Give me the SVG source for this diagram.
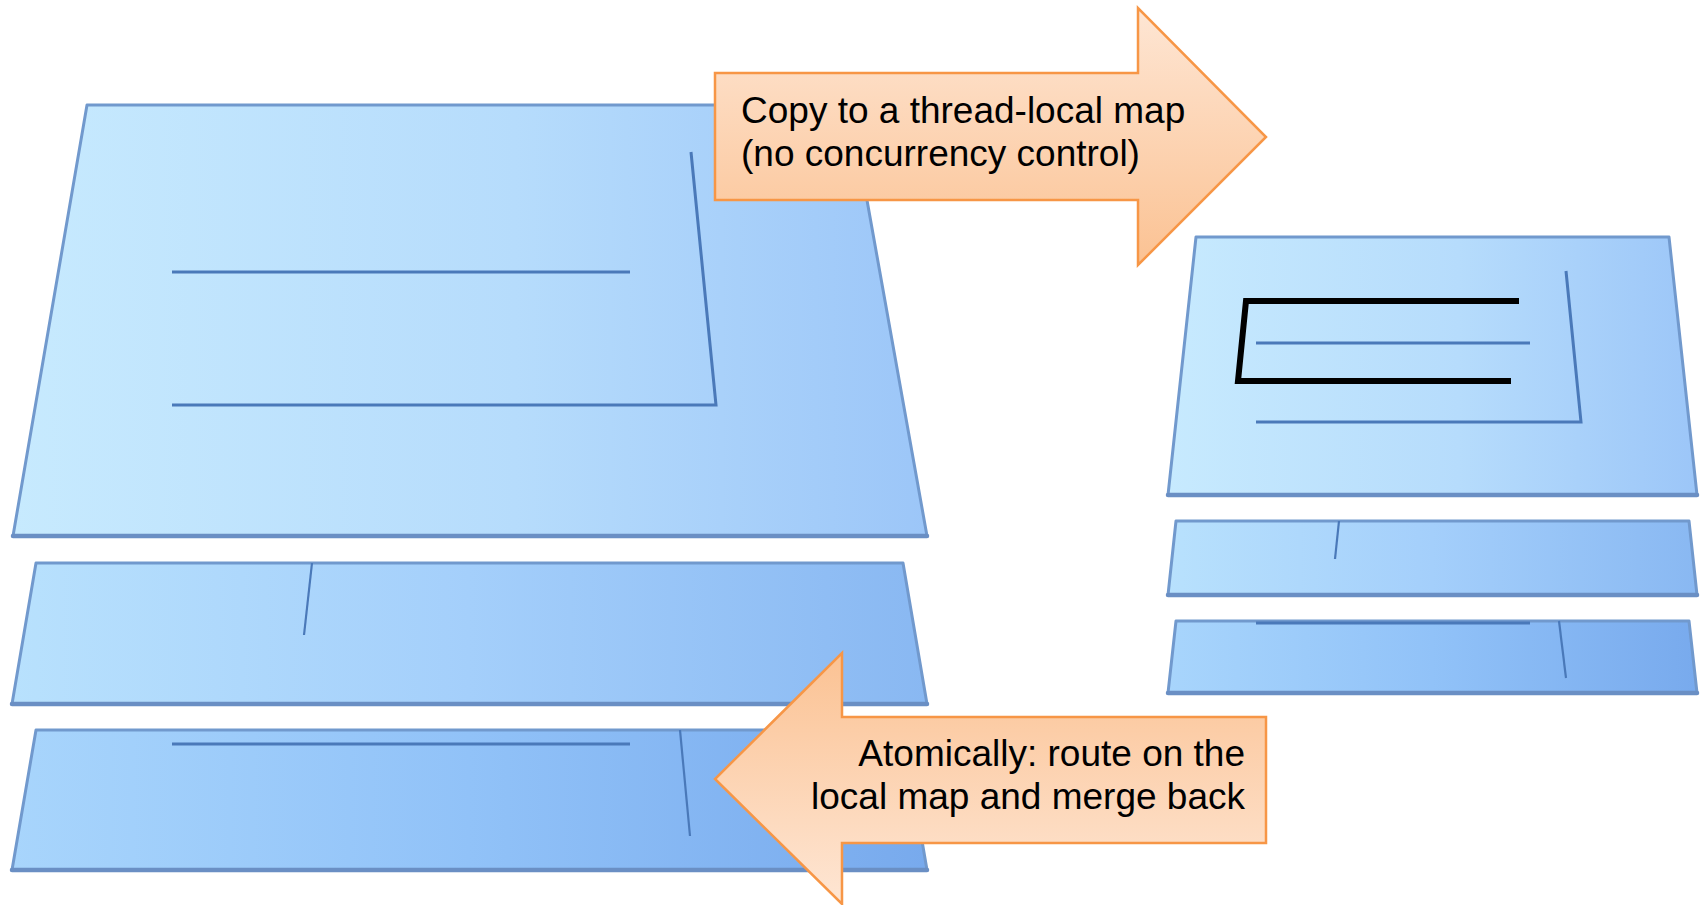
<svg xmlns="http://www.w3.org/2000/svg" width="1700" height="905" viewBox="0 0 1700 905">
  <defs>
    <!-- plane fills: lighter on top layer, darker toward the bottom layers -->
    <linearGradient id="gTop" x1="0" y1="0" x2="1" y2="0">
      <stop offset="0" stop-color="#c7eafe"/>
      <stop offset="0.55" stop-color="#b6dcfc"/>
      <stop offset="1" stop-color="#9cc6f8"/>
    </linearGradient>
    <linearGradient id="gMid" x1="0" y1="0" x2="1" y2="0">
      <stop offset="0" stop-color="#b8e1fd"/>
      <stop offset="0.5" stop-color="#a4cffb"/>
      <stop offset="1" stop-color="#89b8f2"/>
    </linearGradient>
    <linearGradient id="gLow" x1="0" y1="0" x2="1" y2="0">
      <stop offset="0" stop-color="#a8d5fc"/>
      <stop offset="0.5" stop-color="#91c2f8"/>
      <stop offset="1" stop-color="#78aaed"/>
    </linearGradient>
    <linearGradient id="gArrowDown" x1="0" y1="0" x2="0" y2="1">
      <stop offset="0" stop-color="#fee6d4"/>
      <stop offset="1" stop-color="#fbc293"/>
    </linearGradient>
    <linearGradient id="gArrowUp" x1="0" y1="0" x2="0" y2="1">
      <stop offset="0" stop-color="#fbc293"/>
      <stop offset="1" stop-color="#fee6d4"/>
    </linearGradient>
  </defs>
  <style>
    .plane { stroke: #7199cd; stroke-width: 3; stroke-linejoin: round; }
    .edge { stroke: #6a8fc4; stroke-width: 4.5; stroke-linecap: round; fill: none; }
    .route { stroke: #4a79b9; stroke-width: 3; fill: none; }
    .routeThin { stroke: #4a79b9; stroke-width: 2.2; fill: none; }
    .path { stroke: #000; stroke-width: 6; fill: none; stroke-linejoin: miter; }
    .arrow { stroke: #f79646; stroke-width: 2.5; stroke-linejoin: miter; }
    .label { font-family: "Liberation Sans", Arial, sans-serif; font-size: 37px; fill: #000; }
  </style>

  <rect width="1700" height="905" fill="#ffffff"/>

  <!-- shared map: three stacked layers -->
  <g id="shared-top">
    <polygon class="plane" fill="url(#gTop)" points="87,105 850,105 927,536 13,536"/>
    <line class="edge" x1="13" y1="536" x2="927" y2="536"/>
    <line class="route" x1="172" y1="272" x2="630" y2="272"/>
    <polyline class="route" points="172,405 716,405 691,152"/>
  </g>
  <g id="shared-mid">
    <polygon class="plane" fill="url(#gMid)" points="36,563 903,563 927,704 12,704"/>
    <line class="edge" x1="12" y1="704" x2="927" y2="704"/>
    <line class="routeThin" x1="312" y1="563" x2="304" y2="635"/>
  </g>
  <g id="shared-low">
    <polygon class="plane" fill="url(#gLow)" points="36,730 903,730 927,870 12,870"/>
    <line class="edge" x1="12" y1="870" x2="927" y2="870"/>
    <line class="route" x1="172" y1="744" x2="630" y2="744"/>
    <line class="routeThin" x1="680" y1="730" x2="690" y2="836"/>
  </g>

  <!-- thread-local map: three stacked layers -->
  <g id="local-top">
    <polygon class="plane" fill="url(#gTop)" points="1196,237 1669,237 1697,495 1168,495"/>
    <line class="edge" x1="1168" y1="495" x2="1697" y2="495"/>
    <line class="route" x1="1256" y1="343" x2="1530" y2="343"/>
    <polyline class="route" points="1256,422 1581,422 1566,271"/>
    <polyline class="path" points="1519,301 1246,301 1238,381 1511,381"/>
  </g>
  <g id="local-mid">
    <polygon class="plane" fill="url(#gMid)" points="1176,521 1689,521 1697,595 1168,595"/>
    <line class="edge" x1="1168" y1="595" x2="1697" y2="595"/>
    <line class="routeThin" x1="1339" y1="521" x2="1335" y2="559"/>
  </g>
  <g id="local-low">
    <polygon class="plane" fill="url(#gLow)" points="1176,621 1689,621 1697,693 1168,693"/>
    <line class="edge" x1="1168" y1="693" x2="1697" y2="693"/>
    <line class="route" x1="1256" y1="623" x2="1530" y2="623"/>
    <line class="routeThin" x1="1559" y1="621" x2="1566" y2="678"/>
  </g>

  <!-- block arrows between the two maps -->
  <g id="arrows">
    <g id="copy-arrow">
      <path class="arrow" fill="url(#gArrowDown)" d="M715,73 H1138 V8 L1266,137 L1138,265 V200 H715 Z"/>
      <text class="label" x="741" y="123">Copy to a thread-local map</text>
      <text class="label" x="741" y="166">(no concurrency control)</text>
    </g>
    <g id="merge-arrow">
      <path class="arrow" fill="url(#gArrowUp)" d="M1266,717 H842 V653 L715,779 L842,904 V843 H1266 Z"/>
      <text class="label" x="1245" y="766" text-anchor="end">Atomically: route on the</text>
      <text class="label" x="1245" y="809" text-anchor="end">local map and merge back</text>
    </g>
  </g>
</svg>
